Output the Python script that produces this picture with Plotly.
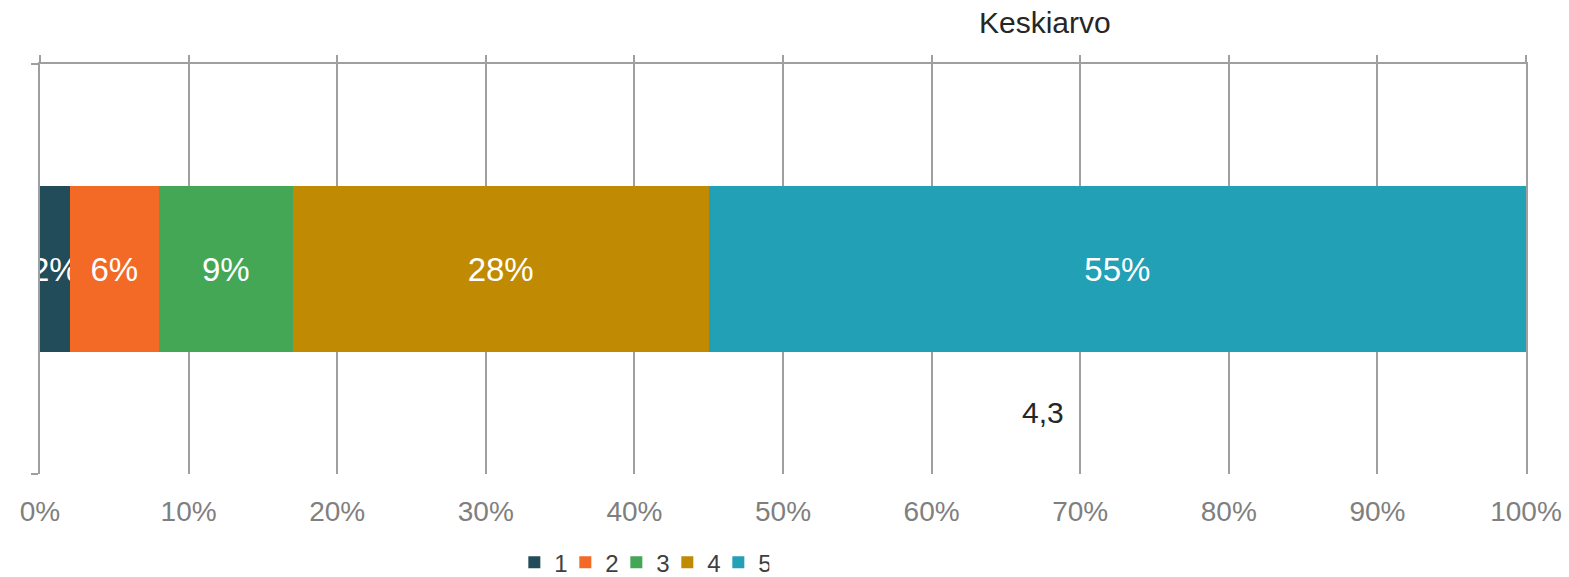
import plotly.graph_objects as go

categories = ["Keskiarvo"]
series_names = ["1", "2", "3", "4", "5"]
series_values = [0.02, 0.06, 0.09, 0.28, 0.55]
series_colors = ["#224C5A", "#F26A25", "#44A756", "#C08A03", "#21A0B6"]
tick_values = [0, 0.1, 0.2, 0.3, 0.4, 0.5, 0.6, 0.7, 0.8, 0.9, 1.0]
tick_labels = ["0%", "10%", "20%", "30%", "40%", "50%", "60%", "70%", "80%", "90%", "100%"]
mean_label = "4,3"
title_text = "Keskiarvo"

FONT = "Liberation Sans, Arial, sans-serif"
LINE = "#9f9f9f"

fig = go.Figure()
for name, val, col in zip(series_names, series_values, series_colors):
    fig.add_trace(go.Bar(
        y=[0], x=[val], name=name, orientation="h",
        marker=dict(color=col, line=dict(width=0)),
        width=0.405,
        text=[f"{round(val*100)}%"], textposition="inside", textangle=0,
        insidetextanchor="middle", constraintext="none",
        textfont=dict(color="white", size=33, family=FONT),
        hoverinfo="skip",
    ))

# helper trace so the top (secondary) axis line is drawn
fig.add_trace(go.Scatter(x=[None], y=[None], xaxis="x2", yaxis="y",
                         showlegend=False, hoverinfo="skip", mode="markers"))

fig.update_layout(
    barmode="stack",
    width=1569, height=577,
    margin=dict(l=39.5, r=43, t=64, b=103, autoexpand=False),
    paper_bgcolor="white", plot_bgcolor="white",
    font=dict(family=FONT),
    showlegend=True,
    legend=dict(orientation="h", x=0.405, xanchor="center", y=-0.216, yanchor="middle",
                font=dict(size=24, color="#404040", family=FONT),
                traceorder="normal", itemwidth=30, entrywidth=6, entrywidthmode="pixels",
                bgcolor="rgba(0,0,0,0)", borderwidth=0),
    xaxis=dict(range=[0, 1], tickvals=tick_values, ticktext=tick_labels,
               showgrid=True, gridcolor=LINE, gridwidth=1.5,
               zeroline=False, showline=False, ticks="", automargin=False,
               tickfont=dict(size=28, color="#7f7f7f", family=FONT),
               ticklabelstandoff=18, fixedrange=True),
    xaxis2=dict(range=[0, 1], tickvals=tick_values, overlaying="x", side="top",
                anchor="y", showticklabels=False, ticks="outside", ticklen=7,
                tickcolor=LINE, tickwidth=1.5, showline=True, linecolor=LINE,
                linewidth=1.5, showgrid=False, zeroline=False, automargin=False),
    yaxis=dict(range=[-0.5, 0.5], tickvals=[-0.5, 0.5], ticks="outside", ticklen=7,
               tickcolor=LINE, tickwidth=1.5, showticklabels=False,
               showline=True, mirror=True, linecolor=LINE, linewidth=1.5,
               showgrid=False, zeroline=False, automargin=False),
)

fig.add_annotation(text=title_text, x=0.6765, y=1.102, xref="paper", yref="paper",
                   showarrow=False, font=dict(size=30, color="#262626", family=FONT),
                   xanchor="center", yanchor="middle")
fig.add_annotation(text=mean_label, x=0.675, y=-0.351, xref="x", yref="y",
                   showarrow=False, font=dict(size=30, color="#262626", family=FONT),
                   xanchor="center", yanchor="middle")

fig.write_html("out.html", config={"displayModeBar": False},
               post_script="document.body.style.margin='0px';document.body.style.overflow='hidden';")
